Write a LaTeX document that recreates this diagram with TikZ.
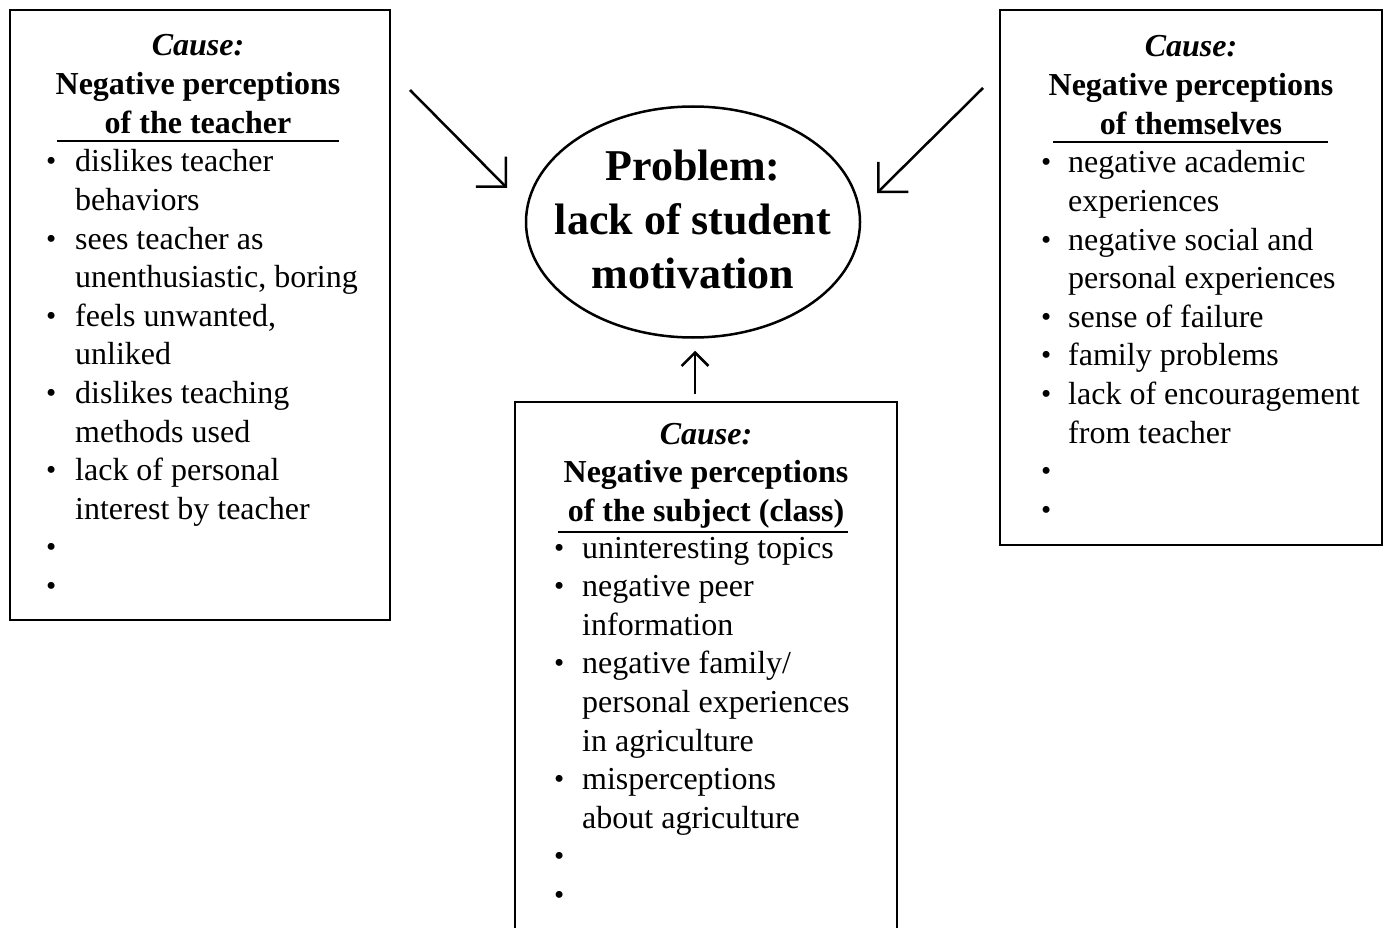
\documentclass[tikz,border=0pt]{standalone}
\usepackage{fontspec}
\setmainfont{Liberation Serif}
\usetikzlibrary{arrows.meta,shapes.geometric,calc}
\newlength{\listind}
\newcommand{\bl}{\makebox[\listind][l]{\raisebox{1pt}{\fontsize{29}{29}\selectfont\textbullet}}}
\newcommand{\ind}{\hspace*{\listind}}
\begin{document}
\begin{tikzpicture}[x=1pt,y=-1pt,
  box/.style={draw, line width=2pt, inner sep=0pt},
  head/.style={font=\fontsize{32}{38.6}\selectfont\bfseries, inner sep=0pt, anchor=base},
  lst/.style={font=\fontsize{32}{38.6}\selectfont, inner sep=0pt, anchor=base west},
  arr/.style={line width=2.5pt, -{Straight Barb[angle=90:30pt, line width=2.5pt]}},
  arrsmall/.style={line width=2.5pt, -{Straight Barb[angle=90:19pt, line width=2.5pt]}},
  rule/.style={line width=2pt}]
\useasboundingbox (0,0) rectangle (1384,928);
\clip (0,0) rectangle (1384,928);
\fill[white] (0,0) rectangle (1384,928);

% boxes
\node[box, minimum width=380pt, minimum height=610pt] (lbox) at (200,315) {};
\node[box, minimum width=382pt, minimum height=535pt] (rbox) at (1191,277.5) {};
\node[box, minimum width=382pt, minimum height=560pt] (bbox) at (706,682) {};

% problem ellipse
\node[ellipse, draw, line width=2.5pt, minimum width=334pt, minimum height=231pt, inner sep=0pt] (prob) at (693,222) {};
\node[font=\fontsize{44}{54}\selectfont\bfseries, inner sep=0pt, anchor=base] (ptext) at (693,181)
  {\begin{tabular}[t]{@{}c@{}}Problem:\\lack of student\\motivation\end{tabular}};

% left cause
\node[head] (lhead) at (198,56) {\begin{tabular}[t]{@{}c@{}}\textit{Cause:}\\Negative perceptions\\of the teacher\end{tabular}};
\draw[rule] (57,141) -- (339,141);
\node[lst] (llist) at (46,172) {\setlength\listind{29pt}\begin{tabular}[t]{@{}l@{}}
\bl dislikes teacher\\ \ind behaviors\\
\bl sees teacher as\\ \ind unenthusiastic, boring\\
\bl feels unwanted,\\ \ind unliked\\
\bl dislikes teaching\\ \ind methods used\\
\bl lack of personal\\ \ind interest by teacher\\
\bl\\
\bl
\end{tabular}};

% right cause
\node[head] (rhead) at (1191,57) {\begin{tabular}[t]{@{}c@{}}\textit{Cause:}\\Negative perceptions\\of themselves\end{tabular}};
\draw[rule] (1053,142) -- (1328,142);
\node[lst] (rlist) at (1041,173) {\setlength\listind{27pt}\begin{tabular}[t]{@{}l@{}}
\bl negative academic\\ \ind experiences\\
\bl negative social and\\ \ind personal experiences\\
\bl sense of failure\\
\bl family problems\\
\bl lack of encouragement\\ \ind from teacher\\
\bl\\
\bl
\end{tabular}};

% bottom cause
\node[head] (bhead) at (706,444) {\begin{tabular}[t]{@{}c@{}}\textit{Cause:}\\Negative perceptions\\of the subject (class)\end{tabular}};
\draw[rule] (558,532) -- (848,532);
\node[lst] (blist) at (554,558) {\setlength\listind{28pt}\begin{tabular}[t]{@{}l@{}}
\bl uninteresting topics\\
\bl negative peer\\ \ind information\\
\bl negative family/\\ \ind personal experiences\\ \ind in agriculture\\
\bl misperceptions\\ \ind about agriculture\\
\bl\\
\bl
\end{tabular}};

% arrows
\coordinate (la) at (410,90);
\coordinate (lb) at (507,188);
\coordinate (ra) at (983,88);
\coordinate (rb) at (877,193);
\draw[arr] (la) -- (lb);
\draw[arr] (ra) -- (rb);
\draw[arrsmall] ($(bbox.north)+(-11,-7)$) -- ($(prob.south)+(2,12)$);
\end{tikzpicture}
\end{document}
